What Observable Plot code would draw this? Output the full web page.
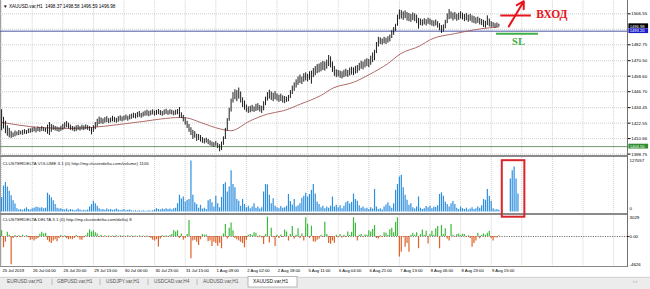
<!DOCTYPE html>
<html><head><meta charset="utf-8">
<script src="https://cdn.jsdelivr.net/npm/d3@7"></script>
<script src="https://cdn.jsdelivr.net/npm/@observablehq/plot@0.6"></script>
<style>
html,body{margin:0;padding:0;background:#fff;}
#root{position:relative;width:650px;height:289px;overflow:hidden;background:#fff;}
.ln{position:absolute;}
</style></head><body><div id="root"></div>
<script>
// ---------- DATA ----------
const priceTitle = "▼ XAUUSD.var,H1  1498.37 1498.58 1496.59 1496.98";
const volumeTitle = "CLUSTERDELTA VOLUME 3.1 (0) http://my.clusterdelta.com/volume) 1106";
const deltaTitle = "CLUSTERDELTA DELTA 3.1 (0) http://my.clusterdelta.com/delta) 8";
const timeLabels = ["25 Jul 2019","26 Jul 04:00","26 Jul 20:00","29 Jul 13:00","30 Jul 06:00","30 Jul 23:00","31 Jul 15:00","1 Aug 09:00","2 Aug 02:00","2 Aug 18:00","5 Aug 11:00","6 Aug 04:00","6 Aug 21:00","7 Aug 13:00","8 Aug 06:00","8 Aug 23:00","9 Aug 15:00"];
const priceGrid = [1506.55,1494.65,1482.75,1470.50,1458.60,1446.70,1434.45,1422.55,1410.66,1398.75];
const priceTicks = [1506.55,1482.75,1470.50,1458.60,1446.70,1434.45,1422.55,1410.66,1398.75];
const volumeTicks = [127057, 0];
const deltaTicks = [3029, 0, -4626];
const tabNames = ["EURUSD.var,H1","GBPUSD.var,H1","USDJPY.var,H1","USDCAD.var,H4","AUDUSD.var,H1","XAUUSD.var,H1"];
const currentPrice = 1496.98;
const levelBlue = 1493.20;
const levelGreen = 1404.50;

const priceLow = [1416.7,1418.0,1414.4,1412.5,1411.3,1410.8,1411.5,1412.0,1412.8,1413.0,1413.5,1413.2,1414.0,1413.8,1414.5,1414.8,1415.2,1415.8,1415.0,1416.0,
1415.5,1416.2,1416.0,1415.5,1414.0,1413.0,1415.5,1417.0,1416.5,1416.0,1415.5,1416.2,1417.0,1418.2,1419.0,1418.0,1417.0,1416.5,1415.8,1416.0,
1417.0,1416.4,1417.2,1416.8,1417.5,1417.0,1416.2,1413.5,1415.5,1417.5,1419.5,1421.5,1422.0,1421.5,1422.5,1423.0,1422.2,1422.8,1423.5,1423.0,
1422.5,1423.2,1424.0,1423.5,1424.2,1424.8,1424.0,1425.0,1425.5,1426.2,1425.8,1426.5,1427.0,1426.3,1427.2,1427.8,1428.0,1427.5,1428.2,1428.8,
1428.0,1428.5,1429.0,1428.4,1427.8,1428.6,1429.2,1428.5,1429.0,1428.8,1428.2,1428.6,1429.0,1426.5,1426.0,1423.5,1421.0,1418.5,1415.5,1413.0,
1410.0,1411.0,1408.5,1409.2,1408.0,1407.0,1406.5,1407.2,1406.0,1405.0,1404.5,1403.8,1404.8,1403.0,1400.5,1401.5,1405.5,1410.0,1416.5,1424.0,
1431.0,1438.0,1440.5,1439.0,1441.0,1438.0,1434.5,1432.5,1431.0,1430.0,1430.5,1431.2,1430.8,1431.5,1432.0,1431.0,1430.0,1432.0,1436.0,1439.5,
1441.0,1440.0,1439.0,1440.5,1439.5,1438.5,1439.2,1438.0,1437.5,1438.5,1439.0,1441.5,1444.5,1447.0,1449.5,1451.5,1453.0,1452.2,1454.0,1455.0,
1454.2,1455.5,1452.5,1457.5,1459.0,1460.5,1461.2,1462.0,1463.0,1462.5,1464.0,1466.0,1465.0,1461.5,1458.5,1457.5,1458.0,1457.0,1456.5,1457.5,
1458.2,1457.8,1458.8,1459.5,1459.0,1460.2,1460.8,1462.5,1464.0,1463.5,1465.0,1466.0,1465.2,1467.0,1469.0,1470.5,1476.0,1481.0,1483.0,1482.5,
1483.5,1483.0,1484.0,1485.0,1487.5,1490.0,1493.0,1497.0,1502.0,1502.5,1501.5,1502.8,1501.0,1500.5,1500.0,1501.2,1500.5,1499.0,1494.8,1497.5,
1497.0,1498.0,1497.2,1498.5,1497.8,1497.0,1496.5,1497.2,1495.5,1493.5,1491.5,1492.5,1495.0,1499.0,1502.0,1502.5,1501.0,1502.0,1500.8,1501.5,
1502.5,1501.8,1500.5,1501.2,1500.0,1500.8,1499.5,1499.0,1498.5,1499.2,1498.0,1497.5,1496.0,1495.5,1497.5,1496.5,1495.8,1496.2,1495.5,1496.0,
1496.59];
const priceHigh = [1432.8,1427.0,1424.0,1420.5,1418.5,1416.2,1415.0,1416.5,1415.8,1416.9,1416.3,1417.0,1417.5,1416.8,1418.0,1418.2,1418.8,1419.2,1418.5,1419.5,
1418.9,1419.8,1419.0,1418.6,1421.0,1423.0,1421.5,1420.8,1420.0,1419.5,1419.0,1420.2,1421.5,1422.8,1423.8,1422.5,1421.0,1420.0,1419.5,1420.5,
1420.8,1419.8,1421.0,1420.4,1421.2,1420.6,1419.8,1419.0,1420.5,1423.0,1425.5,1427.2,1426.5,1425.8,1426.8,1427.5,1426.0,1426.5,1427.8,1427.0,
1426.2,1427.5,1428.2,1427.3,1428.0,1428.8,1427.8,1429.0,1429.5,1430.2,1429.8,1430.8,1431.5,1430.0,1431.0,1431.8,1432.5,1431.6,1432.0,1432.8,
1431.8,1432.4,1433.0,1432.2,1431.5,1432.6,1433.2,1432.0,1432.8,1432.5,1431.8,1432.4,1433.0,1434.5,1430.5,1428.5,1426.5,1424.0,1421.5,1419.0,
1417.0,1416.0,1414.0,1413.8,1413.0,1411.5,1410.5,1411.0,1410.0,1409.0,1408.0,1407.5,1408.5,1407.0,1406.0,1408.0,1412.0,1418.5,1426.0,1434.0,
1441.0,1446.0,1448.2,1447.5,1449.5,1446.5,1442.0,1439.5,1436.5,1435.0,1435.5,1436.2,1435.0,1437.0,1437.5,1436.0,1435.5,1439.0,1442.5,1446.0,
1447.8,1446.5,1445.5,1446.8,1445.0,1444.0,1444.8,1443.5,1443.0,1442.5,1443.8,1447.5,1451.0,1453.5,1455.8,1458.0,1459.5,1458.0,1460.5,1461.2,
1460.0,1462.0,1462.5,1464.5,1466.0,1467.5,1468.0,1469.0,1470.0,1469.5,1471.0,1474.5,1473.5,1469.5,1466.0,1463.5,1463.0,1462.5,1462.0,1463.2,
1464.0,1463.0,1464.8,1465.5,1465.0,1466.2,1466.8,1468.5,1470.0,1469.5,1471.2,1472.0,1471.5,1474.0,1476.5,1478.5,1484.5,1488.5,1488.0,1487.2,
1488.5,1487.8,1489.0,1490.2,1493.5,1496.0,1498.5,1505.5,1509.5,1509.0,1508.0,1508.8,1507.5,1506.8,1506.0,1507.2,1506.5,1505.5,1503.0,1502.5,
1501.8,1502.8,1502.0,1503.2,1502.5,1501.5,1501.0,1501.8,1500.5,1499.0,1497.5,1498.0,1501.5,1506.5,1509.8,1508.0,1507.0,1507.5,1506.2,1507.0,
1508.2,1507.0,1506.0,1506.8,1505.5,1506.2,1505.0,1504.5,1503.5,1504.0,1503.0,1502.2,1501.5,1500.8,1505.0,1502.5,1500.5,1499.8,1499.0,1499.5,
1498.58];

const maIdx = [0,20.3,34.3,46.5,60.4,74.4,83.1,93.5,97,104,114.5,119.7,130.1,139,147.4,156.3,166.7,173.5,184,192.9,201.8,208.6,219,224.3,237.3,250.4,260];
const maVal = [1423.1,1419.2,1418.5,1419.2,1421.3,1423.9,1425.7,1426.9,1426.5,1423.1,1418.0,1416.7,1424.4,1429.5,1432.1,1437.2,1443.6,1449.6,1453.9,1460.4,1468.1,1475.8,1482.1,1486.8,1491.4,1495.0,1496.4];

const volume = [35000,62000,71000,60000,50000,39000,27000,19000,8000,5000,6000,4000,7000,10000,6000,5000,8000,9000,12000,11000,
9000,10000,8000,9000,45000,40000,34000,27000,18000,9000,7000,8000,6000,5000,7000,4000,6000,5000,3000,4000,
7000,5000,3000,4000,3000,5000,12000,18000,26000,20000,14000,8000,5000,6000,4000,7000,5000,6000,4000,5000,
7000,5000,3000,4000,6000,3000,4000,5000,3000,2000,3000,2000,3000,2000,3000,2000,2000,3000,2000,3000,
5000,8000,6000,5000,7000,6000,8000,6000,7000,5000,8000,9000,20000,40000,31000,36000,24000,28000,30000,122000,
40000,22000,18000,9000,16000,7000,9000,6000,27000,30000,22000,12000,38000,20000,10000,35000,66000,70000,48000,60000,
99000,66000,58000,30000,26000,14000,30000,18000,10000,14000,8000,12000,20000,9000,12000,7000,10000,48000,66000,65000,
40000,20000,32000,14000,10000,8000,13000,9000,10000,14000,42000,25000,17000,30000,12000,15000,20000,33000,38000,45000,
36000,42000,52000,66000,43000,24000,18000,10000,14000,8000,12000,9000,14000,36000,12000,16000,10000,15000,8000,14000,
22000,25000,19000,23000,43000,30000,26000,15000,9000,12000,7000,9000,6000,10000,7000,54000,12000,6000,8000,5000,
12000,17000,22000,14000,9000,20000,52000,66000,84000,88000,58000,40000,28000,16000,20000,10000,7000,12000,36000,9000,
6000,8000,13000,10000,14000,8000,12000,11000,15000,42000,46000,38000,24000,18000,12000,20000,25000,18000,9000,6000,
12000,8000,6000,9000,5000,7000,10000,6000,8000,12000,9000,15000,30000,28000,54000,38000,26000,8000,5000,6000,
4000,null,null,null,null,null,79000,99000,108000,79000,43000];

const delta = [900,-1750,-880,670,200,-4400,-300,150,-200,100,-150,200,-100,150,-200,-600,-500,-700,-450,-300,
350,650,400,500,-600,-900,-1100,-700,-500,-800,-300,150,-200,100,-350,-500,-400,-500,-300,150,
-200,-550,-600,-200,100,500,1030,700,900,600,400,-150,200,-100,100,-150,80,-100,80,-120,
100,-80,120,-100,60,-90,110,-70,90,-110,70,-60,100,-80,60,-120,90,-70,-300,-600,
-700,-500,-1650,-400,100,-150,120,-100,150,300,930,700,900,-300,400,-600,-300,300,2480,-3460,
-700,-600,-900,-1400,-500,300,200,250,-800,-700,-1550,-900,-1100,-1500,-1050,-1900,400,1860,-400,1300,
2100,900,-300,-500,-700,-900,-1100,-1760,-600,200,300,150,600,500,-200,100,-250,-1240,300,3000,
-1000,1300,-200,-1550,200,-300,250,-150,1000,700,-700,300,1550,-400,200,1200,-300,400,-700,2900,
1900,-300,1600,-800,-900,-600,-400,200,-150,2200,300,-1100,-1200,-700,-1050,200,-200,300,-250,200,
-150,700,150,650,2900,2070,-700,200,300,-150,250,200,900,700,1100,1700,-300,-400,100,-200,
600,500,150,1050,1300,600,2200,2900,-3200,-2430,-200,-1650,-1100,-2430,200,500,200,600,-1900,300,
1000,200,800,-1150,300,800,200,1200,1550,-1900,1700,300,1200,-400,-700,1860,200,-100,300,400,
150,350,300,-150,100,-300,-1650,-1100,-700,500,-350,200,400,200,500,800,-350,-700,-200,-250,
100];

// annotation anchors (bar index / value)
const slLine = {x1: 258.8, x2: 280.7, y: 1491.15};
const slText = {x: 270.3, y: 1484.9, text: "SL"};
const entryLine = {x1: 261, x2: 277, y: 1505.24};
const entryArrow = {x1: 265.2, y1: 1496.8, x2: 273.05, y2: 1516.2};
const entryText = {x: 287.7, y: 1505.85, text: "ВХОД"};
const volBox = {x1: 261.8, x2: 273.6, y1: -12500, y2: 123000};

// ---------- LAYOUT ----------
const W = 650;
const XDOM = [0, 327.27];
const ML = 1.1, MR = 23;
const gridIdx = d3.range(0, 321, 16);
const FONT = "'Liberation Sans', Arial, sans-serif";
const root = document.getElementById("root");

function line(x, y, w, h, c) {
  const d = document.createElement("div");
  d.className = "ln";
  Object.assign(d.style, {left: x + "px", top: y + "px", width: w + "px", height: h + "px", background: c});
  root.appendChild(d);
}
function place(el, top) {
  el.style.position = "absolute"; el.style.left = "0px"; el.style.top = top + "px";
  root.appendChild(el);
}

// frame lines (beneath plots)
line(0, 0, 1, 267, "#a0a0a0");
line(626.5, 0, 1, 267, "#707070");
line(0, 155, 627, 2, "#8a8a8a");
line(0, 212.5, 627, 2, "#8a8a8a");
line(0, 266, 627, 1, "#8a8a8a");

const gridStyle = {stroke: "#c4c4c4", strokeDasharray: "1,1", strokeWidth: 0.8};
const baseStyle = {background: "transparent", overflow: "visible", fontFamily: FONT, fontSize: "4.4px", color: "#000"};

// ---------- PRICE PANEL ----------
const bars = priceLow.map((l, i) => ({i, low: l, high: priceHigh[i]}));
const ma = maIdx.map((i, k) => ({i, v: maVal[k]}));
const boxes = [
  {v: currentPrice, fill: "#000000"},
  {v: levelBlue, fill: "#1d1dc8"},
  {v: levelGreen, fill: "#2e8e2e"}
];
const pricePlot = Plot.plot({
  width: W, height: 156, marginLeft: ML, marginRight: MR, marginTop: 13.3, marginBottom: 2.4,
  x: {domain: XDOM, axis: null},
  y: {domain: [1398.75, 1506.55]},
  style: baseStyle,
  marks: [
    Plot.ruleX(gridIdx, {...gridStyle, insetTop: -12.5, insetBottom: -1}),
    Plot.ruleY(priceGrid, {...gridStyle, insetLeft: -1.1}),
    Plot.ruleY([levelGreen], {stroke: "#6c9a6c", strokeWidth: 1, insetLeft: -1.1}),
    Plot.ruleY([levelBlue], {stroke: "#4c56a8", strokeWidth: 1, insetLeft: -1.1}),
    Plot.line(ma, {x: "i", y: "v", stroke: "#a65a58", strokeWidth: 0.9, curve: "monotone-x"}),
    Plot.ruleX(bars, {x: "i", y1: "low", y2: "high", stroke: "#111", strokeWidth: 0.95}),
    Plot.axisY(priceTicks, {anchor: "right", tickSize: 2.5, tickPadding: 1.2, tickFormat: d => d.toFixed(2), fontSize: 4.4}),
    Plot.rect(boxes, {x1: 328.0, x2: 338.3, y1: d => d.v - 1.85, y2: d => d.v + 1.85, fill: "fill"}),
    Plot.text(boxes, {x: 328.4, y: "v", text: d => d.v.toFixed(2), fill: "#fff", textAnchor: "start", fontSize: 4.1}),
    Plot.text([priceTitle], {frameAnchor: "top-left", dx: 1.5, dy: -8.8, text: d => d, textAnchor: "start", fontSize: 4.6, fill: "#000"}),
    // trade annotations
    Plot.ruleY([slLine], {x1: "x1", x2: "x2", y: "y", stroke: "#3fae49", strokeWidth: 2}),
    Plot.text([slText], {x: "x", y: "y", text: "text", fill: "#3fae49", fontSize: 10.5, fontWeight: "bold", fontFamily: "'Liberation Serif', serif"}),
    Plot.ruleY([entryLine], {x1: "x1", x2: "x2", y: "y", stroke: "#e8141c", strokeWidth: 2}),
    Plot.arrow([entryArrow], {x1: "x1", y1: "y1", x2: "x2", y2: "y2", stroke: "#e8141c", strokeWidth: 2, headLength: 6}),
    Plot.text([entryText], {x: "x", y: "y", text: "text", fill: "#e8141c", fontSize: 11.5, fontWeight: "bold", fontFamily: "'Liberation Serif', serif"})
  ]
});
place(pricePlot, 0);

// ---------- DELTA PANEL ----------
const deltaData = delta.map((v, i) => ({i, v}));
const deltaPlot = Plot.plot({
  width: W, height: 75, marginLeft: ML, marginRight: MR, marginTop: 2.5, marginBottom: 23.2,
  x: {domain: XDOM, axis: null},
  y: {domain: [-4626, 3029], axis: null},
  style: baseStyle,
  marks: [
    Plot.ruleX(gridIdx, {...gridStyle, insetTop: -1, insetBottom: 0}),
    Plot.ruleY([0], {stroke: "#555", strokeDasharray: "1.2,1.2", strokeWidth: 0.8, insetLeft: -1.1}),
    Plot.ruleX(deltaData, {x: "i", y1: 0, y2: "v", stroke: d => d.v >= 0 ? "#3dba3d" : "#e0622a", strokeWidth: 1.2}),
    Plot.ruleY([0], {x1: XDOM[1], x2: XDOM[1] + 1.3, stroke: "#000", strokeWidth: 0.8}),
    Plot.text([deltaTicks[0]], {x: XDOM[1], y: d => d, text: d => String(d), dx: 2, dy: 0.8, textAnchor: "start", fontSize: 4.4}),
    Plot.text([deltaTicks[1]], {x: XDOM[1], y: d => d, text: d => d.toFixed(2), dx: 2, textAnchor: "start", fontSize: 4.4}),
    Plot.text([deltaTicks[2]], {x: XDOM[1], y: d => d, text: d => String(d), dx: 2, dy: -1.5, textAnchor: "start", fontSize: 4.4}),
    Plot.text(timeLabels, {x: (d, k) => k * 16, frameAnchor: "bottom", dy: 6, dx: 0.8, text: d => d, textAnchor: "start", fontSize: 4.2}),
    Plot.text([deltaTitle], {frameAnchor: "top-left", dx: 1.2, dy: 1.2, text: d => d, textAnchor: "start", fontSize: 4.4, fill: "#222"})
  ]
});
place(deltaPlot, 214);

// ---------- VOLUME PANEL ----------
const volData = volume.map((v, i) => ({i, v})).filter(d => d.v != null);
const volPlot = Plot.plot({
  width: W, height: 58, marginLeft: ML, marginRight: MR, marginTop: 2.5, marginBottom: 2.5,
  x: {domain: XDOM, axis: null},
  y: {domain: [0, 127057], axis: null},
  style: baseStyle,
  marks: [
    Plot.ruleX(gridIdx, {...gridStyle, insetTop: -1.5, insetBottom: 0}),
    Plot.ruleX(volData, {x: "i", y1: 0, y2: "v", stroke: "#2e8fdf", strokeWidth: 1.2}),
    Plot.text([volumeTicks[0]], {x: XDOM[1], y: d => d, text: d => String(d), dx: 2, dy: 1.6, textAnchor: "start", fontSize: 4.4}),
    Plot.text([volumeTicks[1]], {x: XDOM[1], y: d => d, text: d => String(d), dx: 2, dy: -3.5, textAnchor: "start", fontSize: 4.4}),
    Plot.text([volumeTitle], {frameAnchor: "top-left", dx: 1.2, dy: 2.5, text: d => d, textAnchor: "start", fontSize: 4.4, fill: "#222"}),
    Plot.rect([volBox], {x1: "x1", x2: "x2", y1: "y1", y2: "y2", fill: "none", stroke: "#d8262b", strokeWidth: 2})
  ]
});
place(volPlot, 156);

// ---------- TABS ----------
const tabSvg = d3.create("svg").attr("width", W).attr("height", 13)
  .style("font-family", FONT).style("overflow", "visible");
tabSvg.append("rect").attr("x", 0).attr("y", 1).attr("width", W).attr("height", 12).attr("fill", "#ececec");
tabSvg.append("line").attr("x1", 0).attr("x2", W).attr("y1", 1.3).attr("y2", 1.3).attr("stroke", "#bdbdbd").attr("stroke-width", 0.6);
const tabX = [7, 57, 106, 154, 203, 253];
const sepX = [52, 100, 148, 197];
tabSvg.append("rect").attr("x", 248).attr("y", 0.5).attr("width", 49).attr("height", 10.5)
  .attr("fill", "#fff").attr("stroke", "#9a9a9a").attr("stroke-width", 0.7);
sepX.forEach(x => tabSvg.append("line").attr("x1", x).attr("x2", x).attr("y1", 3).attr("y2", 9)
  .attr("stroke", "#9a9a9a").attr("stroke-width", 0.6));
tabNames.forEach((t, k) => tabSvg.append("text").attr("x", tabX[k]).attr("y", 7.3)
  .attr("font-size", 4.8).attr("fill", k === 5 ? "#111" : "#555").text(t));
tabSvg.append("text").attr("x", 633).attr("y", 7.3).attr("font-size", 4.5).attr("fill", "#888").text("‹  ›");
place(tabSvg.node(), 276);
</script></body></html>
